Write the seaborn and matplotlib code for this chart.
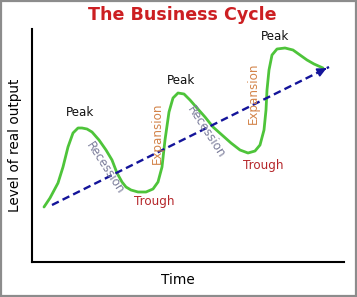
import matplotlib
matplotlib.use("Agg")
import matplotlib.pyplot as plt
import seaborn as sns
import pandas as pd
from matplotlib.patches import Rectangle

# ---- data (arbitrary units) ----
time = [12, 18, 26, 31, 36, 41, 46, 50, 55, 60, 67, 74, 80, 85, 90, 94, 99,
        106, 114, 121, 126, 130, 133, 137, 141, 146, 152, 158, 165, 173, 181,
        190, 199, 208, 216, 223, 228, 232, 234, 235, 237, 240, 245, 253, 261,
        268, 275, 282, 291]
output = [55, 64, 79, 95, 115, 129, 134, 134, 133, 130, 122, 112, 102, 89,
          80, 75, 72, 70, 70, 73, 80, 95, 122, 150, 164, 169, 168, 162, 154,
          145, 135, 127, 119, 112, 109, 111, 117, 132, 152, 172, 192, 207,
          213, 214, 212, 207, 202, 198, 194]
trend_time = [20, 297]
trend_output = [57, 195]

peak_labels = ["Peak", "Peak", "Peak"]
trough_labels = ["Trough", "Trough"]
phase_expansion = "Expansion"
phase_recession = "Recession"
title = "The Business Cycle"
xlabel = "Time"
ylabel = "Level of real output"

sns.set_theme(style="white")
plt.rcParams["font.family"] = ["DejaVu Sans"]

fig = plt.figure(figsize=(3.57, 2.97), dpi=100)
ax = fig.add_axes([32 / 357, 35 / 297, 312 / 357, 233 / 297])

df = pd.DataFrame({"time": time, "output": output})
sns.lineplot(data=df, x="time", y="output", sort=False, ax=ax,
             color="#4ec43a", linewidth=2.0, solid_capstyle="round",
             solid_joinstyle="round")

tdf = pd.DataFrame({"time": trend_time, "output": trend_output})
sns.lineplot(data=tdf, x="time", y="output", ax=ax, color="#14149a",
             linewidth=1.7, linestyle=(0, (3.2, 1.8)))
ax.annotate("", xy=(trend_time[1], trend_output[1]),
            xytext=(trend_time[1] - 8, trend_output[1] - 4),
            arrowprops=dict(arrowstyle="-|>,head_length=0.45,head_width=0.22",
                            color="#14149a", lw=1.2))

ax.set_xlim(0, 312)
ax.set_ylim(0, 233)
ax.set_xticks([])
ax.set_yticks([])
ax.set_xlabel("")
ax.set_ylabel("")
for s in ("top", "right"):
    ax.spines[s].set_visible(False)
for s in ("left", "bottom"):
    ax.spines[s].set_color("black")
    ax.spines[s].set_linewidth(1.5)

lab = dict(fontsize=8.6, ha="center", va="center")
# Peaks
ax.text(48, 149, peak_labels[0], color="#111111", **lab)
ax.text(149, 181, peak_labels[1], color="#111111", **lab)
ax.text(243, 225, peak_labels[2], color="#111111", **lab)
# Troughs
ax.text(122, 60, trough_labels[0], color="#b5272b", **lab)
ax.text(231, 96, trough_labels[1], color="#b5272b", **lab)
# Phases
ax.text(125, 129, phase_expansion, color="#d3844a", rotation=90, **lab)
ax.text(221, 169, phase_expansion, color="#d3844a", rotation=90, **lab)
ax.text(73, 94, phase_recession, color="#7d7f9c", rotation=-57,
        rotation_mode="anchor", **lab)
ax.text(174, 130, phase_recession, color="#7d7f9c", rotation=-57,
        rotation_mode="anchor", **lab)

fig.text(182 / 357, 1 - 15 / 297, title, color="#cc1f22", fontsize=12.6,
         fontweight="bold", ha="center", va="center")
fig.text(178 / 357, 1 - 280 / 297, xlabel, color="black", fontsize=9.8,
         ha="center", va="center")
fig.text(15 / 357, 1 - 145 / 297, ylabel, color="black", fontsize=9.8,
         rotation=90, ha="center", va="center")

fig.add_artist(Rectangle((0.003, 0.004), 0.994, 0.992, transform=fig.transFigure,
                         fill=False, edgecolor="#8c8c8c", linewidth=1.6))

fig.savefig("out.png", dpi=100, facecolor="white")
